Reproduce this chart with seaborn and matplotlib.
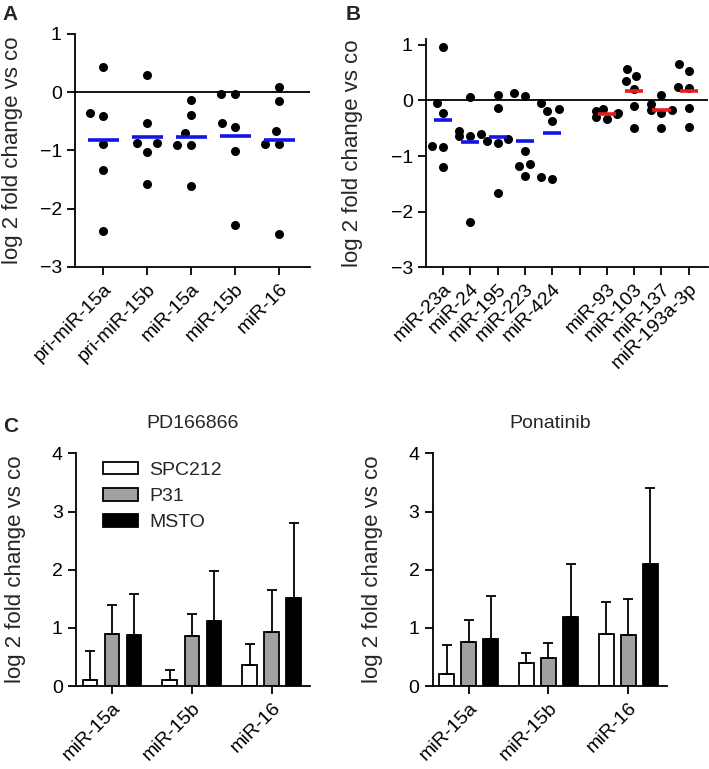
import numpy as np
import pandas as pd
import matplotlib
matplotlib.use('Agg')
import matplotlib.pyplot as plt
import seaborn as sns

# Panel A: pri-miRNA / miRNA levels (log2 fold change vs co)
a_labels = ['pri-miR-15a', 'pri-miR-15b', 'miR-15a', 'miR-15b', 'miR-16']
a_values = [
    [0.43, -0.35, -0.41, -0.89, -1.33, -2.39],
    [0.29, -0.53, -0.87, -0.87, -1.03, -1.57],
    [-0.13, -0.39, -0.70, -0.90, -0.90, -1.61],
    [-0.03, -0.03, -0.53, -0.59, -1.01, -2.28],
    [0.09, -0.15, -0.67, -0.89, -0.89, -2.43],
]

# Panel B: other miRNAs, two groups separated by an empty slot
b_labels = ['miR-23a', 'miR-24', 'miR-195', 'miR-223', 'miR-424', ' ',
            'miR-93', 'miR-103', 'miR-137', 'miR-193a-3p']
b_group = ['down', 'down', 'down', 'down', 'down', None, 'up', 'up', 'up', 'up']
b_values = [
    [0.96, -0.05, -0.22, -0.81, -0.84, -1.20],
    [0.06, -0.55, -0.60, -0.63, -0.63, -2.18],
    [0.09, -0.14, -0.70, -0.76, -0.73, -1.66],
    [0.13, 0.08, -0.91, -1.14, -1.18, -1.35],
    [-0.16, -0.19, -0.05, -0.37, -1.41, -1.37],
    [],
    [-0.15, -0.19, -0.22, -0.25, -0.30, -0.34],
    [0.56, 0.21, 0.35, 0.44, -0.10, -0.49],
    [0.10, -0.06, -0.17, -0.23, -0.18, -0.49],
    [0.65, 0.53, 0.23, 0.24, -0.13, -0.48],
]
group_colors = {'down': '#1414e6', 'up': '#e81c1c'}

# Panel C: bar charts, mean and upper error
c_mirnas = ['miR-15a', 'miR-15b', 'miR-16']
c_lines = ['SPC212', 'P31', 'MSTO']
c_colors = ['white', '#a0a0a0', 'black']
pd_mean = {'SPC212': [0.11, 0.10, 0.36], 'P31': [0.89, 0.86, 0.93], 'MSTO': [0.88, 1.12, 1.52]}
pd_err = {'SPC212': [0.50, 0.18, 0.37], 'P31': [0.50, 0.38, 0.72], 'MSTO': [0.70, 0.85, 1.28]}
po_mean = {'SPC212': [0.21, 0.40, 0.89], 'P31': [0.76, 0.49, 0.88], 'MSTO': [0.80, 1.18, 2.09]}
po_err = {'SPC212': [0.49, 0.17, 0.55], 'P31': [0.38, 0.25, 0.61], 'MSTO': [0.75, 0.91, 1.31]}

sns.set_style('ticks')
plt.rcParams['font.family'] = ['Liberation Sans', 'DejaVu Sans']
plt.rcParams['axes.linewidth'] = 1.3
plt.rcParams['xtick.major.width'] = 1.3
plt.rcParams['ytick.major.width'] = 1.3
plt.rcParams['xtick.major.size'] = 6
plt.rcParams['ytick.major.size'] = 6
plt.rcParams['axes.edgecolor'] = 'black'
plt.rcParams['xtick.color'] = 'black'
plt.rcParams['ytick.color'] = 'black'

TICK_FS = 14
LABEL_FS = 16
YLABEL = 'log 2 fold change vs co'


def long_table(labels, values):
    rows = []
    for lab, vals in zip(labels, values):
        for v in vals:
            rows.append({'mirna': lab, 'value': v})
    return pd.DataFrame(rows)


def style_axis(ax):
    sns.despine(ax=ax)
    ax.tick_params(labelsize=TICK_FS, colors='black')


fig = plt.figure(figsize=(7.09, 7.69), dpi=100)

# ---- Panel A
axA = fig.add_axes([0.1058, 0.6528, 0.3314, 0.303])
dfa = long_table(a_labels, a_values)
sns.swarmplot(data=dfa, x='mirna', y='value', order=a_labels, color='black',
              size=6.5, linewidth=3, edgecolor=(0, 0, 0, 0), ax=axA)
for i, vals in enumerate(a_values):
    axA.hlines(np.mean(vals), i - 0.35, i + 0.35, color=group_colors['down'], lw=2.6, zorder=4)
axA.axhline(0, color='black', lw=1.3, zorder=1)
axA.set_xlim(-0.64, 4.7)
axA.set_ylim(-3, 1)
axA.set_yticks([1, 0, -1, -2, -3])
axA.set_xlabel('')
axA.set_ylabel(YLABEL, fontsize=LABEL_FS)
axA.yaxis.set_label_coords(-0.221, 0.5)
style_axis(axA)
plt.setp(axA.get_xticklabels(), rotation=45, ha='right', rotation_mode='anchor')

# ---- Panel B
axB = fig.add_axes([0.6008, 0.6524, 0.3977, 0.2965])
dfb = long_table(b_labels, b_values)
sns.swarmplot(data=dfb, x='mirna', y='value', order=b_labels, color='black',
              size=6.5, linewidth=1.5, edgecolor=(0, 0, 0, 0), ax=axB)
for i, (vals, grp) in enumerate(zip(b_values, b_group)):
    if len(vals) == 0:
        continue
    axB.hlines(np.mean(vals), i - 0.33, i + 0.33, color=group_colors[grp], lw=2.6, zorder=4)
axB.axhline(0, color='black', lw=1.3, zorder=1)
axB.set_xlim(-0.62, 9.7)
axB.set_ylim(-3, 1.1)
axB.set_yticks([1, 0, -1, -2, -3])
axB.set_xlabel('')
axB.set_ylabel(YLABEL, fontsize=LABEL_FS)
axB.yaxis.set_label_coords(-0.223, 0.5)
style_axis(axB)
plt.setp(axB.get_xticklabels(), rotation=45, ha='right', rotation_mode='anchor')


# ---- Panel C
def bar_panel(ax, means, errs, title, legend):
    rows = []
    for line in c_lines:
        for m, v, e in zip(c_mirnas, means[line], errs[line]):
            rows.append({'mirna': m, 'line': line, 'value': v, 'err': e})
    df = pd.DataFrame(rows)
    sns.barplot(data=df, x='mirna', y='value', hue='line', order=c_mirnas,
                hue_order=c_lines, palette=c_colors, edgecolor='black',
                linewidth=1.3, width=0.83, gap=0.34, errorbar=None,
                legend=legend, ax=ax)
    for cont, line in zip(ax.containers, c_lines):
        xs = [p.get_x() + p.get_width() / 2 for p in cont.patches]
        ys = [p.get_height() for p in cont.patches]
        e = df.loc[df['line'] == line, 'err'].to_numpy()
        ax.errorbar(xs, ys, yerr=[np.zeros_like(e), e], fmt='none',
                    ecolor='black', elinewidth=1.3, capsize=3.5, capthick=1.3,
                    zorder=1)
    ax.set_xlim(-0.45, 2.48)
    ax.set_ylim(0, 4)
    ax.set_yticks([0, 1, 2, 3, 4])
    ax.set_xlabel('')
    ax.set_ylabel(YLABEL, fontsize=LABEL_FS)
    ax.yaxis.set_label_coords(-0.214, 0.5)
    ax.set_title(title, fontsize=TICK_FS, pad=18)
    style_axis(ax)
    plt.setp(ax.get_xticklabels(), rotation=45, ha='right', rotation_mode='anchor')
    if legend:
        ax.legend(title=None, frameon=False, loc='upper left',
                  bbox_to_anchor=(0.04, 1.04), fontsize=TICK_FS,
                  handlelength=1.8, handleheight=0.65, labelspacing=0.45,
                  handletextpad=0.6)


axC1 = fig.add_axes([0.1072, 0.1079, 0.33, 0.3026])
bar_panel(axC1, pd_mean, pd_err, 'PD166866', True)
axC2 = fig.add_axes([0.6103, 0.1079, 0.33, 0.3026])
bar_panel(axC2, po_mean, po_err, 'Ponatinib', False)

# panel letters
fig.text(0.004, 0.993, 'A', fontsize=15, fontweight='bold', va='top')
fig.text(0.487, 0.993, 'B', fontsize=15, fontweight='bold', va='top')
fig.text(0.004, 0.458, 'C', fontsize=15, fontweight='bold', va='top')

fig.savefig('out.png', dpi=100)
